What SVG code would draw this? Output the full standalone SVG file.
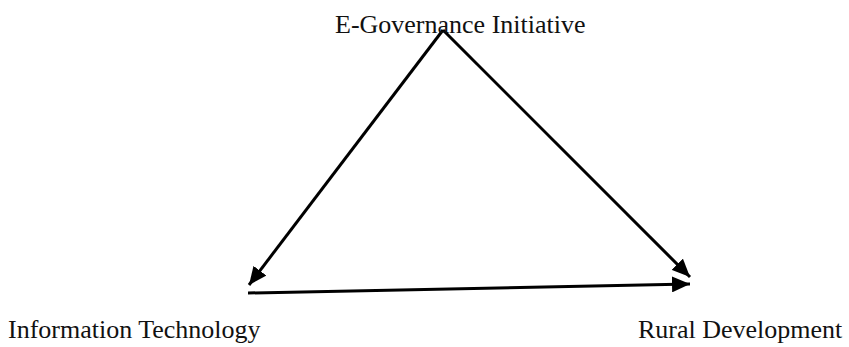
<svg xmlns="http://www.w3.org/2000/svg" width="849" height="347" viewBox="0 0 849 347">
<style>
.lbl{font-family:"Liberation Serif","Times New Roman",serif;font-size:26px;fill:#111}
.conn{stroke:#000;stroke-width:3;fill:none}
</style>
<defs>
<marker id="ah" markerUnits="userSpaceOnUse" markerWidth="20" markerHeight="16" refX="18" refY="8" orient="auto">
<path d="M0,0 L18,8 L0,16 Z" fill="#000"/>
</marker>
</defs>
<rect width="849" height="347" fill="#fff"/>
<g id="connectors">
<line class="conn" x1="443" y1="30" x2="249" y2="285" marker-end="url(#ah)"/>
<line class="conn" x1="443" y1="30" x2="690" y2="277" marker-end="url(#ah)"/>
<line class="conn" x1="248" y1="293" x2="690" y2="284" marker-end="url(#ah)"/>
</g>
<g id="egov"><text class="lbl" x="335" y="33">E-Governance Initiative</text></g>
<g id="it"><text class="lbl" x="8" y="338">Information Technology</text></g>
<g id="rd"><text class="lbl" x="638" y="338">Rural Development</text></g>
</svg>
